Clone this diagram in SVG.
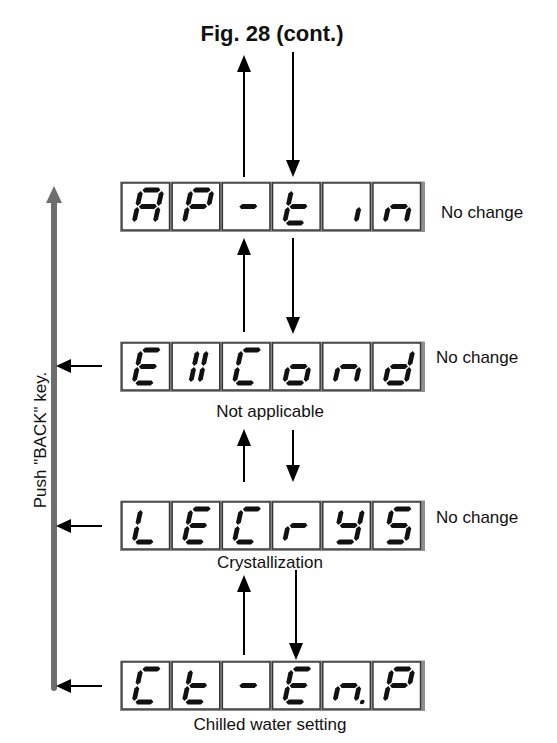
<svg xmlns="http://www.w3.org/2000/svg" width="557" height="743" viewBox="0 0 557 743">
<style>
  .lbl { font-family: "Liberation Sans", Arial, sans-serif; font-size: 17px; fill: #111; }
  .title { font-family: "Liberation Sans", Arial, sans-serif; font-size: 22px; font-weight: bold; fill: #111; }
  .frame { fill: #8f8f8f; }
  .cell { fill: #fff; stroke: #333; stroke-width: 1.4; }
  .seg { fill: #111; }
  .conn { stroke: #000; stroke-width: 2; fill: none; }
  .head { fill: #000; }
</style>
<defs>
  <polygon id="sa" class="seg" points="3,-35 5.4,-37.4 18.6,-37.4 21,-35 18.6,-32.6 5.4,-32.6"/>
  <polygon id="sg" class="seg" points="3,-18.5 5.4,-20.9 18.6,-20.9 21,-18.5 18.6,-16.1 5.4,-16.1"/>
  <polygon id="sd" class="seg" points="3,-2 5.4,-4.4 18.6,-4.4 21,-2 18.6,0.4 5.4,0.4"/>
  <polygon id="sf" class="seg" points="1.5,-34 3.9,-31.6 3.9,-21.4 1.5,-19 -0.9,-21.4 -0.9,-31.6"/>
  <polygon id="se" class="seg" points="1.5,-18 3.9,-15.6 3.9,-5.4 1.5,-3 -0.9,-5.4 -0.9,-15.6"/>
  <polygon id="sb" class="seg" points="22.5,-34 24.9,-31.6 24.9,-21.4 22.5,-19 20.1,-21.4 20.1,-31.6"/>
  <polygon id="sc" class="seg" points="22.5,-18 24.9,-15.6 24.9,-5.4 22.5,-3 20.1,-5.4 20.1,-15.6"/>
  <polygon id="sl1u" class="seg" points="8,-34 10.4,-31.6 10.4,-21.4 8,-19 5.6,-21.4 5.6,-31.6"/>
  <polygon id="sl1d" class="seg" points="8,-18 10.4,-15.6 10.4,-5.4 8,-3 5.6,-5.4 5.6,-15.6"/>
  <polygon id="sl2u" class="seg" points="17,-34 19.4,-31.6 19.4,-21.4 17,-19 14.6,-21.4 14.6,-31.6"/>
  <polygon id="sl2d" class="seg" points="17,-18 19.4,-15.6 19.4,-5.4 17,-3 14.6,-5.4 14.6,-15.6"/>
  <circle id="sdp" class="seg" cx="29" cy="-2" r="2.2"/>
  <g id="row">
    <rect class="frame" x="-2" y="-1.5" width="305" height="50.5"/>
    <rect class="cell" x="0" y="0" width="47.5" height="47"/>
    <rect class="cell" x="50.2" y="0" width="47.5" height="47"/>
    <rect class="cell" x="100.4" y="0" width="47.5" height="47"/>
    <rect class="cell" x="150.6" y="0" width="47.5" height="47"/>
    <rect class="cell" x="200.8" y="0" width="47.5" height="47"/>
    <rect class="cell" x="251" y="0" width="47.5" height="47"/>
  </g>
</defs>

<text class="title" x="272" y="41" text-anchor="middle">Fig. 28 (cont.)</text>

<g id="connectors">
  <!-- gray BACK arrow -->
  <line x1="54" y1="688" x2="54" y2="200" stroke="#6e6e6e" stroke-width="6" stroke-linecap="round"/>
  <polygon points="54,186 46,203 62,203" fill="#6e6e6e"/>
  <!-- left arrows -->
  <line class="conn" x1="102" y1="366" x2="68" y2="366"/>
  <polygon class="head" points="56,366 71,359 71,373"/>
  <line class="conn" x1="102" y1="526" x2="68" y2="526"/>
  <polygon class="head" points="56,526 71,519 71,533"/>
  <line class="conn" x1="102" y1="686" x2="68" y2="686"/>
  <polygon class="head" points="56,686 71,679 71,693"/>
  <!-- top -->
  <line class="conn" x1="244" y1="177" x2="244" y2="70"/>
  <polygon class="head" points="244,55 237,72 251,72"/>
  <line class="conn" x1="293" y1="52" x2="293" y2="163"/>
  <polygon class="head" points="293,177 286,160 300,160"/>
  <!-- row1-row2 -->
  <line class="conn" x1="244" y1="332" x2="244" y2="252"/>
  <polygon class="head" points="244,238 237,255 251,255"/>
  <line class="conn" x1="293" y1="238" x2="293" y2="320"/>
  <polygon class="head" points="293,334 286,317 300,317"/>
  <!-- row2-row3 -->
  <line class="conn" x1="244" y1="482" x2="244" y2="443"/>
  <polygon class="head" points="244,429 237,446 251,446"/>
  <line class="conn" x1="293" y1="430" x2="293" y2="468"/>
  <polygon class="head" points="293,482 286,465 300,465"/>
  <!-- row3-row4 -->
  <line class="conn" x1="244" y1="655" x2="244" y2="589"/>
  <polygon class="head" points="244,575 237,592 251,592"/>
  <line class="conn" x1="296" y1="570" x2="296" y2="645"/>
  <polygon class="head" points="296,660 289,643 303,643"/>
</g>

<g id="node-aptin">
  <use href="#row" x="122" y="183"/>
  <g transform="translate(132,225) skewX(-12)"><use href="#sa"/><use href="#sb"/><use href="#sc"/><use href="#se"/><use href="#sf"/><use href="#sg"/></g>
  <g transform="translate(182.2,225) skewX(-12)"><use href="#sa"/><use href="#sb"/><use href="#se"/><use href="#sf"/><use href="#sg"/></g>
  <g transform="translate(232.4,225) skewX(-12)"><use href="#sg"/></g>
  <g transform="translate(282.6,225) skewX(-12)"><use href="#sd"/><use href="#se"/><use href="#sf"/><use href="#sg"/></g>
  <g transform="translate(332.8,225) skewX(-12)"><use href="#sc"/></g>
  <g transform="translate(383,225) skewX(-12)"><use href="#sc"/><use href="#se"/><use href="#sg"/></g>
</g>
<text class="lbl" x="441" y="218">No change</text>

<g id="node-e11cond">
  <use href="#row" x="122" y="343"/>
  <g transform="translate(132,385) skewX(-12)"><use href="#sa"/><use href="#sd"/><use href="#se"/><use href="#sf"/><use href="#sg"/></g>
  <g transform="translate(182.2,385) skewX(-12)"><use href="#sl1u"/><use href="#sl1d"/><use href="#sl2u"/><use href="#sl2d"/></g>
  <g transform="translate(232.4,385) skewX(-12)"><use href="#sa"/><use href="#sd"/><use href="#se"/><use href="#sf"/></g>
  <g transform="translate(282.6,385) skewX(-12)"><use href="#sc"/><use href="#sd"/><use href="#se"/><use href="#sg"/></g>
  <g transform="translate(332.8,385) skewX(-12)"><use href="#sc"/><use href="#se"/><use href="#sg"/></g>
  <g transform="translate(383,385) skewX(-12)"><use href="#sb"/><use href="#sc"/><use href="#sd"/><use href="#se"/><use href="#sg"/></g>
</g>
<text class="lbl" x="436" y="363">No change</text>
<text class="lbl" x="270" y="417" text-anchor="middle">Not applicable</text>

<g id="node-lecrys">
  <use href="#row" x="122" y="502"/>
  <g transform="translate(132,544) skewX(-12)"><use href="#sd"/><use href="#se"/><use href="#sf"/></g>
  <g transform="translate(182.2,544) skewX(-12)"><use href="#sa"/><use href="#sd"/><use href="#se"/><use href="#sf"/><use href="#sg"/></g>
  <g transform="translate(232.4,544) skewX(-12)"><use href="#sa"/><use href="#sd"/><use href="#se"/><use href="#sf"/></g>
  <g transform="translate(282.6,544) skewX(-12)"><use href="#se"/><use href="#sg"/></g>
  <g transform="translate(332.8,544) skewX(-12)"><use href="#sb"/><use href="#sc"/><use href="#sd"/><use href="#sf"/><use href="#sg"/></g>
  <g transform="translate(383,544) skewX(-12)"><use href="#sa"/><use href="#sc"/><use href="#sd"/><use href="#sf"/><use href="#sg"/></g>
</g>
<text class="lbl" x="436" y="523">No change</text>
<text class="lbl" x="270" y="568" text-anchor="middle">Crystallization</text>

<g id="node-ctenp">
  <use href="#row" x="122" y="662"/>
  <g transform="translate(132,704) skewX(-12)"><use href="#sa"/><use href="#sd"/><use href="#se"/><use href="#sf"/></g>
  <g transform="translate(182.2,704) skewX(-12)"><use href="#sd"/><use href="#se"/><use href="#sf"/><use href="#sg"/></g>
  <g transform="translate(232.4,704) skewX(-12)"><use href="#sg"/></g>
  <g transform="translate(282.6,704) skewX(-12)"><use href="#sa"/><use href="#sd"/><use href="#se"/><use href="#sf"/><use href="#sg"/></g>
  <g transform="translate(332.8,704) skewX(-12)"><use href="#sc"/><use href="#se"/><use href="#sg"/><use href="#sdp"/></g>
  <g transform="translate(383,704) skewX(-12)"><use href="#sa"/><use href="#sb"/><use href="#se"/><use href="#sf"/><use href="#sg"/></g>
</g>
<text class="lbl" x="270" y="730" text-anchor="middle">Chilled water setting</text>

<text class="lbl" transform="translate(46,440) rotate(-90)" text-anchor="middle">Push "BACK" key.</text>
</svg>
